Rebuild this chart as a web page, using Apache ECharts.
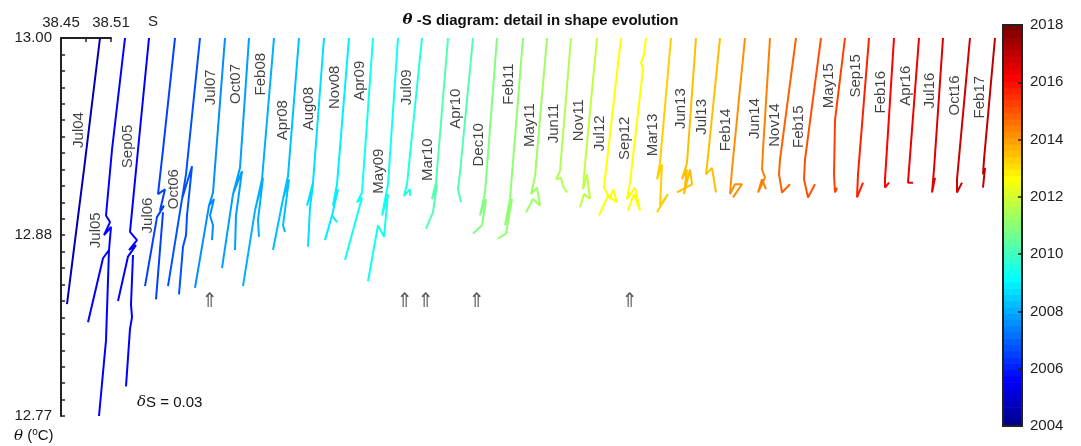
<!DOCTYPE html>
<html>
<head>
<meta charset="utf-8">
<script src="https://cdn.jsdelivr.net/npm/echarts@6/dist/echarts.min.js"></script>
<style>
  html, body { margin: 0; padding: 0; background: #fff; }
  #chart { width: 1081px; height: 446px; }
</style>
</head>
<body>
<div id="chart"></div>
<script>
// Cast names and their dates (decimal years, used for the colour scale)
const profileNames = ['Jul04','Jul05','Sep05','Jul06','Oct06','Jul07','Oct07','Feb08','Apr08','Aug08',
  'Nov08','Apr09','May09','Jul09','Mar10','Apr10','Dec10','Feb11','May11','Jun11','Nov11','Jul12',
  'Sep12','Mar13','Jun13','Jul13','Feb14','Jun14','Nov14','Feb15','May15','Sep15','Feb16','Apr16',
  'Jul16','Oct16','Feb17'];
const profileDates = [2004.54, 2005.54, 2005.71, 2006.54, 2006.79, 2007.54, 2007.79, 2008.12, 2008.29, 2008.62,
  2008.87, 2009.29, 2009.37, 2009.54, 2010.21, 2010.29, 2010.96, 2011.12, 2011.37, 2011.46, 2011.87, 2012.54,
  2012.71, 2013.21, 2013.46, 2013.54, 2014.12, 2014.46, 2014.87, 2015.12, 2015.37, 2015.71, 2016.12, 2016.29,
  2016.54, 2016.79, 2017.12];

// Salinity of each cast (null = break between two pieces of the same cast)
const salinity = [
  [38.4968, 38.4776, 38.4572],
  [38.4968, 38.4812, 38.4740, 38.4788, 38.4716, 38.4800, 38.4776, 38.4704, 38.4524, null, 38.4776, 38.4740, 38.4656],
  [38.4956, 38.4824, 38.4728, 38.4812, 38.4716, 38.4800, 38.4704, 38.4584, null, 38.4764, 38.4740, 38.4752, 38.4728, 38.4680],
  [38.4968, 38.4824, 38.4764, 38.4848, 38.4788, 38.4836, 38.4752, 38.4608, null, 38.4824, 38.4740],
  [38.4968, 38.4800, 38.4752, 38.4872, 38.4812, 38.4800, 38.4764, 38.4716, null, 38.4752, 38.4584],
  [38.4968, 38.4824, 38.4776, 38.4836, 38.4788, 38.4824, 38.4812, null, 38.4776, 38.4608],
  [38.4956, 38.4848, 38.4764, 38.4872, 38.4800, 38.4788, null, 38.4764, 38.4632],
  [38.4956, 38.4812, 38.4728, 38.4824, 38.4764, 38.4776, null, 38.4728, 38.4584],
  [38.4956, 38.4824, 38.4764, 38.4836, 38.4764, 38.4788, null, 38.4764, 38.4644],
  [38.4956, 38.4824, 38.4752, 38.4824, 38.4788, 38.4764],
  [38.4956, 38.4812, 38.4764, 38.4824, 38.4752, 38.4812, null, 38.4752, 38.4668],
  [38.4944, 38.4812, 38.4752, 38.4812, 38.4608],
  [38.4944, 38.4824, 38.4752, 38.4824, 38.4776, 38.4704, 38.4584],
  [38.4932, 38.4752, 38.4716, 38.4788, 38.4788],
  [38.4944, 38.4800, 38.4752, 38.4812, 38.4764, 38.4680],
  [38.4944, 38.4788, 38.4764, 38.4800],
  [38.4932, 38.4788, 38.4728, 38.4800, 38.4752, 38.4644],
  [38.4944, 38.4788, 38.4728, 38.4812, 38.4740, 38.4644],
  [38.4932, 38.4788, 38.4740, 38.4812, 38.4848, 38.4764, 38.4680],
  [38.4920, 38.4788, 38.4740, 38.4800, 38.4824, 38.4872],
  [38.4932, 38.4788, 38.4764, 38.4812, 38.4848, 38.4776, 38.4728],
  [38.4920, 38.4716, 38.4788, 38.4824, 38.4872, 38.4764, 38.4656],
  [38.4920, 38.4896, 38.4860, 38.4884, 38.4728, 38.4692, 38.4788, 38.4848, 38.4776, 38.4704],
  [38.4920, 38.4788, 38.4752, 38.4812, 38.4788, 38.4884, 38.4752],
  [38.4920, 38.4812, 38.4752, 38.4812, 38.4776, 38.4848, 38.4872, 38.4692],
  [38.4908, 38.4764, 38.4740, 38.4812, 38.4860],
  [38.4908, 38.4752, 38.4728, 38.4788, 38.4872, 38.4764],
  [38.4908, 38.4824, 38.4812, 38.4848, 38.4764, 38.4812, 38.4860],
  [38.4920, 38.4728, 38.4716, 38.4752, 38.4848],
  [38.4920, 38.4728, 38.4716, 38.4764, 38.4848],
  [38.4908, 38.4788, 38.4776, 38.4788, 38.4812],
  [38.4896, 38.4764, 38.4752, 38.4824],
  [38.4896, 38.4788, 38.4788, 38.4836],
  [38.4896, 38.4764, 38.4824],
  [38.4884, 38.4776, 38.4752, 38.4788],
  [38.4908, 38.4752, 38.4752, 38.4812],
  [38.4908, 38.4776, 38.4764, 38.4788, 38.4764]
];

// Potential temperature of each cast, point for point with salinity
const theta = [
  [13.000, 12.920, 12.838],
  [13.000, 12.932, 12.892, 12.888, 12.880, 12.885, 12.871, 12.866, 12.827, null, 12.871, 12.816, 12.770],
  [13.000, 12.932, 12.882, 12.877, 12.871, 12.874, 12.867, 12.840, null, 12.868, 12.838, 12.830, 12.823, 12.788],
  [13.000, 12.932, 12.905, 12.908, 12.895, 12.898, 12.891, 12.849, null, 12.894, 12.841],
  [13.000, 12.917, 12.902, 12.922, 12.892, 12.880, 12.873, 12.844, null, 12.902, 12.849],
  [13.000, 12.906, 12.898, 12.902, 12.892, 12.886, 12.877, null, 12.898, 12.848],
  [13.000, 12.921, 12.905, 12.919, 12.892, 12.871, null, 12.905, 12.860],
  [13.000, 12.914, 12.895, 12.915, 12.889, 12.879, null, 12.895, 12.849],
  [13.000, 12.916, 12.902, 12.914, 12.886, 12.882, null, 12.902, 12.871],
  [13.000, 12.912, 12.898, 12.911, 12.897, 12.873],
  [13.000, 12.911, 12.898, 12.908, 12.892, 12.888, null, 12.892, 12.877],
  [13.000, 12.906, 12.900, 12.903, 12.865],
  [13.000, 12.911, 12.892, 12.905, 12.879, 12.886, 12.852],
  [13.000, 12.911, 12.904, 12.908, 12.904],
  [13.000, 12.912, 12.902, 12.911, 12.894, 12.884],
  [13.000, 12.918, 12.908, 12.900],
  [13.000, 12.906, 12.892, 12.902, 12.886, 12.881],
  [13.000, 12.902, 12.886, 12.902, 12.881, 12.878],
  [13.000, 12.916, 12.905, 12.909, 12.898, 12.902, 12.894],
  [13.000, 12.919, 12.914, 12.915, 12.910, 12.906],
  [13.000, 12.923, 12.908, 12.917, 12.902, 12.905, 12.897],
  [13.000, 12.909, 12.902, 12.908, 12.900, 12.904, 12.892],
  [13.000, 12.990, 12.985, 12.981, 12.912, 12.902, 12.909, 12.895, 12.905, 12.895],
  [13.000, 12.924, 12.914, 12.923, 12.898, 12.905, 12.894],
  [13.000, 12.924, 12.914, 12.920, 12.905, 12.920, 12.911, 12.906],
  [13.000, 12.928, 12.917, 12.921, 12.906],
  [13.000, 12.920, 12.905, 12.911, 12.911, 12.903],
  [13.000, 12.932, 12.920, 12.915, 12.906, 12.914, 12.908],
  [13.000, 12.926, 12.917, 12.906, 12.911],
  [13.000, 12.926, 12.914, 12.903, 12.911],
  [13.000, 12.950, 12.917, 12.906, 12.909],
  [13.000, 12.917, 12.903, 12.912],
  [13.000, 12.914, 12.909, 12.912],
  [13.000, 12.912, 12.912],
  [13.000, 12.920, 12.906, 12.915],
  [13.000, 12.914, 12.906, 12.912],
  [13.000, 12.926, 12.917, 12.921, 12.909]
];

// Temperature at which each cast name is written beside its curve
const labelTheta = [12.944, 12.883, 12.934, 12.892, 12.908, 12.970, 12.972, 12.978, 12.950, 12.957,
  12.970, 12.974, 12.919, 12.970, 12.926, 12.957, 12.935, 12.972, 12.947, 12.948, 12.950, 12.942,
  12.939, 12.941, 12.957, 12.952, 12.944, 12.951, 12.947, 12.946, 12.971, 12.977, 12.967, 12.971,
  12.968, 12.965, 12.964];

// Arrow markers under selected casts (offset salinity, temperature)
const arrowS = [38.6288, 38.8628, 38.8880, 38.9492, 39.1328];
const arrowTheta = 12.8395;

const DS = 0.03;                       // salinity shift between consecutive casts
const sTickLabels = ['38.45', '38.51'];
const thetaTickLabels = ['13.00', '12.88', '12.77'];
const yearRange = [2004, 2018];

const FONT = '"Liberation Sans", Arial, Helvetica, sans-serif';
const INK = '#222';

// MATLAB-style jet colormap with 64 steps
function jetRGB(k) {
  const u = i => (i >= 1 && i <= 47) ? (i <= 16 ? i / 16 : (i <= 31 ? 1 : (48 - i) / 16)) : 0;
  const n = k + 1;
  return [u(n - 24), u(n - 8), u(n + 8)].map(v => Math.round(v * 255));
}
function jetCss(k) { const c = jetRGB(k); return 'rgb(' + c.join(',') + ')'; }
function dateColor(d) {
  const k = Math.max(0, Math.min(63, Math.floor((d - yearRange[0]) / (yearRange[1] - yearRange[0]) * 64)));
  return jetCss(k);
}

// Salinity of cast i at temperature th, along its first crossing
function sAt(i, th) {
  const S = salinity[i], T = theta[i];
  for (let j = 0; j < S.length - 1; j++) {
    if (S[j] === null || S[j + 1] === null) continue;
    const a = T[j], b = T[j + 1];
    if ((th <= a && th >= b) || (th >= a && th <= b)) {
      const f = a === b ? 0 : (th - a) / (b - a);
      return S[j] + f * (S[j + 1] - S[j]);
    }
  }
  return S[0];
}

const profileSeries = profileNames.map((name, i) => ({
  type: 'line',
  name: name,
  xAxisIndex: 0, yAxisIndex: 0,
  data: salinity[i].map((s, j) => s === null ? ['-', '-'] : [s + i * DS, theta[i][j]]),
  showSymbol: false,
  symbol: 'none',
  connectNulls: false,
  clip: false,
  silent: true,
  lineStyle: { width: 2, color: dateColor(profileDates[i]) },
  itemStyle: { color: dateColor(profileDates[i]) },
  z: 3
}));

const LABEL_GAP = 0.012;
const nameSeries = {
  type: 'scatter',
  xAxisIndex: 0, yAxisIndex: 0,
  silent: true,
  symbolSize: 1,
  itemStyle: { color: 'rgba(0,0,0,0)' },
  data: profileNames.map((name, i) => [sAt(i, labelTheta[i]) + i * DS - LABEL_GAP, labelTheta[i], name]),
  label: {
    show: true, position: 'inside', rotate: 90,
    align: 'center', verticalAlign: 'middle',
    formatter: p => p.value[2],
    fontFamily: FONT, fontSize: 15, color: '#111'
  },
  z: 5
};

const arrowSeries = {
  type: 'scatter',
  xAxisIndex: 0, yAxisIndex: 0,
  silent: true,
  symbolSize: 1,
  itemStyle: { color: 'rgba(0,0,0,0)' },
  data: arrowS.map(s => [s, arrowTheta]),
  label: {
    show: true, position: 'inside',
    formatter: '\u21D1',
    fontFamily: '"DejaVu Sans", sans-serif', fontSize: 20, color: '#333'
  },
  z: 5
};

const Y0 = yearRange[0], Y1 = yearRange[1];
const bands = Array.from({ length: 64 }, (_, k) => [0.5, Y0 + (k + 0.5) * (Y1 - Y0) / 64, k]);
const colorbarSeries = {
  type: 'custom',
  xAxisIndex: 2, yAxisIndex: 2,
  silent: true,
  z: -1,
  data: bands,
  renderItem: (params, api) => {
    const k = api.value(2);
    const h = (Y1 - Y0) / 64;
    const p0 = api.coord([0, Y0 + k * h]);
    const p1 = api.coord([1, Y0 + (k + 1) * h]);
    return {
      type: 'rect',
      shape: { x: p0[0], y: p1[1], width: p1[0] - p0[0], height: p0[1] - p1[1] + 0.6 },
      style: { fill: jetCss(k) }
    };
  }
};

const axisLineStyle = { color: INK, width: 2 };
const tickStyle = { color: INK, width: 1.5 };

const option = {
  animation: false,
  textStyle: { fontFamily: FONT },
  title: {
    text: '{i|\u03B8}{b| -S diagram: detail in shape evolution}',
    left: 'center',
    top: 8,
    textStyle: {
      rich: {
        i: { fontFamily: '"DejaVu Serif", "Liberation Serif", serif', fontStyle: 'italic', fontSize: 15, color: '#111' },
        b: { fontFamily: FONT, fontWeight: 'bold', fontSize: 15, color: '#111' }
      }
    }
  },
  grid: [
    { left: 61, top: 38, width: 950, height: 378 },
    { left: 61, top: 38, width: 50, height: 10 },
    { left: 1003, top: 25, width: 19, height: 401, show: true, borderColor: INK, borderWidth: 2, backgroundColor: 'rgba(0,0,0,0)' }
  ],
  xAxis: [
    { gridIndex: 0, type: 'value', min: 38.45, max: 39.59, show: false },
    {
      gridIndex: 1, type: 'value', position: 'top', min: 38.45, max: 38.51, interval: 0.03,
      axisLine: { show: true, onZero: false, lineStyle: axisLineStyle },
      axisTick: { show: true, inside: true, length: 4, lineStyle: tickStyle },
      axisLabel: {
        margin: 8, fontSize: 15, color: INK, fontFamily: FONT,
        showMinLabel: true, showMaxLabel: true,
        formatter: v => { const s = v.toFixed(2); return sTickLabels.includes(s) ? s : ''; }
      },
      splitLine: { show: false },
      name: 'S', nameLocation: 'end', nameGap: 37,
      nameTextStyle: { fontSize: 15, color: INK, fontFamily: FONT, verticalAlign: 'bottom', padding: [0, 0, 9, 0] }
    },
    { gridIndex: 2, type: 'value', min: 0, max: 1, show: false }
  ],
  yAxis: [
    {
      gridIndex: 0, type: 'value', position: 'left', min: 12.77, max: 13.00, interval: 0.01,
      axisLine: { show: true, onZero: false, lineStyle: axisLineStyle },
      axisTick: { show: true, inside: true, length: 4, lineStyle: tickStyle },
      axisLabel: {
        margin: 9, fontSize: 15, color: INK, fontFamily: FONT,
        showMinLabel: true, showMaxLabel: true,
        formatter: v => { const s = v.toFixed(2); return thetaTickLabels.includes(s) ? s : ''; }
      },
      splitLine: { show: false }
    },
    { gridIndex: 1, type: 'value', min: 0, max: 1, show: false },
    {
      gridIndex: 2, type: 'value', position: 'right', min: Y0, max: Y1, interval: 2,
      axisLine: { show: true, onZero: false, lineStyle: axisLineStyle },
      axisTick: { show: true, inside: true, length: 4, lineStyle: tickStyle },
      axisLabel: {
        margin: 8, fontSize: 15, color: INK, fontFamily: FONT, showMinLabel: true, showMaxLabel: true,
        formatter: v => String(Math.round(v))
      },
      splitLine: { show: false }
    }
  ],
  graphic: [
    {
      type: 'text', left: 137, top: 395,
      style: {
        text: '{i|\u03B4}{n|S = 0.03}',
        rich: {
          i: { fontFamily: '"DejaVu Serif", "Liberation Serif", serif', fontStyle: 'italic', fontSize: 15, fill: '#111' },
          n: { fontFamily: FONT, fontSize: 15, fill: '#111' }
        }
      }
    },
    {
      type: 'text', left: 14, top: 427,
      style: {
        text: '{i|\u03B8}{n| (}{s|o}{n|C)}',
        rich: {
          i: { fontFamily: '"DejaVu Serif", "Liberation Serif", serif', fontStyle: 'italic', fontSize: 15, fill: '#111', lineHeight: 18 },
          n: { fontFamily: FONT, fontSize: 15, fill: '#111', lineHeight: 18 },
          s: { fontFamily: FONT, fontSize: 10, fill: '#111', verticalAlign: 'top', lineHeight: 18, padding: [0, 0, 6, 0] }
        }
      }
    }
  ],
  series: [colorbarSeries].concat(profileSeries, [nameSeries, arrowSeries])
};

const chart = echarts.init(document.getElementById('chart'), null, { renderer: 'canvas' });
chart.setOption(option);
</script>
</body>
</html>
